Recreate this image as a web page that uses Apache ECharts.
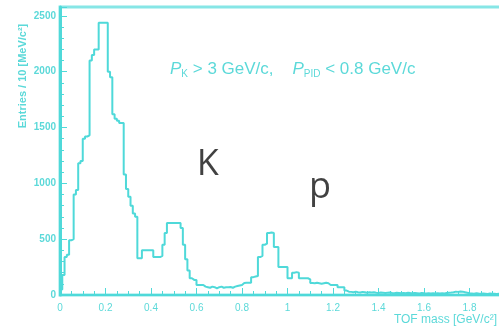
<!DOCTYPE html>
<html><head><meta charset="utf-8">
<script src="https://cdn.jsdelivr.net/npm/echarts@6/dist/echarts.min.js"></script>
<style>html,body{margin:0;padding:0;background:#fff}#c{width:499px;height:327px}</style>
</head><body><div id="c"></div>
<script>
// Histogram: TOF mass, bins of 10 MeV starting at 0
const binStart = 0.0;
const binWidth = 0.01;
const counts = [
  50,180,340,360,490,500,900,940,1180,1200,
  1400,1420,1430,2100,2150,2200,2200,2440,2440,2440,
  2440,2000,1950,1620,1580,1560,1540,1540,1080,950,
  880,800,730,700,330,330,400,400,400,400,
  400,340,340,340,350,450,555,645,645,645,
  645,645,645,600,450,320,220,150,135,135,
  90,90,90,75,70,65,75,70,60,70,
  75,65,70,70,72,65,75,80,85,90,
  107,110,110,110,160,165,170,340,350,450,
  460,555,560,555,430,430,250,250,250,250,
  150,150,200,205,200,150,150,150,150,140,
  107,105,110,105,100,105,110,105,90,90,
  90,90,70,70,70,40,30,28,25,30,
  25,22,28,25,20,24,22,25,20,18,
  22,20,18,20,22,18,15,20,18,16,
  18,15,20,17,15,18,16,14,17,15,
  14,16,13,15,14,16,13,15,14,18,
  20,22,25,30,28,32,30,25,20,15,
  14,12,15,13,12,14,12,10,13,12,
  11,10,12,10,9,11,10,9,10,8
];
const xTickLabels = ['0','0.2','0.4','0.6','0.8','1','1.2','1.4','1.6','1.8','2'];
const yTickLabels = ['0','500','1000','1500','2000','2500'];
const xTitle = 'TOF mass [GeV/c²]';
const yTitle = 'Entries / 10 [MeV/c²]';
const peakLabels = [{text:'K', x:0.65, y:1165}, {text:'p', x:1.143, y:960}];

const lineCol = '#4fd9d9';
const frameCol = '#86e6e6';
const textCol = '#5cd9d9';

const pts = counts.map((v,i)=>[+(binStart+i*binWidth).toFixed(3), v]);
pts.push([+(binStart+counts.length*binWidth).toFixed(3), counts[counts.length-1]]);

const chart = echarts.init(document.getElementById('c'), null, {renderer:'canvas'});
chart.setOption({
  animation:false,
  backgroundColor:'#fff',
  grid:{left:60, top:7, width:455, bottom:32, show:true, borderColor:frameCol, borderWidth:3,
        outerBoundsMode:'none', containLabel:false},
  xAxis:{
    type:'value', min:0, max:2, interval:0.2,
    axisLine:{lineStyle:{color:lineCol, width:2}},
    axisTick:{inside:true, length:7, lineStyle:{color:lineCol}},
    minorTick:{show:true, splitNumber:4, length:4, lineStyle:{color:lineCol}},
    splitLine:{show:false},
    axisLabel:{color:textCol, fontSize:10, fontFamily:'Liberation Sans', margin:8,
      formatter:(v)=>{const i=Math.round(v/0.2); return Math.abs(i*0.2-v)<1e-6 ? xTickLabels[i] : '';}}
  },
  yAxis:{
    type:'value', min:0, max:2580, interval:500,
    axisLine:{show:true, lineStyle:{color:lineCol, width:3}},
    axisTick:{inside:true, length:7, lineStyle:{color:lineCol}},
    minorTick:{show:true, splitNumber:5, length:4, lineStyle:{color:lineCol}},
    splitLine:{show:false},
    axisLabel:{color:textCol, fontSize:10, fontWeight:'bold', fontFamily:'Liberation Sans', margin:4,
      formatter:(v)=>{const i=Math.round(v/500); return (Math.abs(i*500-v)<1e-6 && i<yTickLabels.length) ? yTickLabels[i] : '';}}
  },
  series:[
    {type:'line', step:'end', data:pts, showSymbol:false, symbol:'none',
     lineStyle:{color:lineCol, width:2}, z:3},
    {type:'scatter', data:peakLabels.map(p=>[p.x,p.y,p.text]), symbolSize:0, silent:true,
     label:{show:true, position:'inside', formatter:(p)=>p.data[2], color:'#111',
       fontSize:36, fontFamily:'Open Sans'}}
  ],
  graphic:[
    {type:'text', left:170, top:61, style:{
      text:'{i|P}{s|K} > 3 GeV/c,    {i|P}{s|PID} < 0.8 GeV/c',
      rich:{
        i:{fontStyle:'italic', fontSize:17, fill:textCol, fontFamily:'Liberation Sans'},
        s:{fontSize:10, fill:textCol, fontFamily:'Liberation Sans', padding:[9,0,0,0]}
      },
      fill:textCol, font:'17px Liberation Sans'}},
    {type:'text', right:2, top:314, style:{text:xTitle, fill:textCol, font:'12px Liberation Sans'}},
    {type:'text', x:23, y:76, rotation:Math.PI/2, style:{text:yTitle, fill:textCol,
      font:'bold 11px Liberation Sans', align:'center', verticalAlign:'middle'}}
  ]
});
</script></body></html>
